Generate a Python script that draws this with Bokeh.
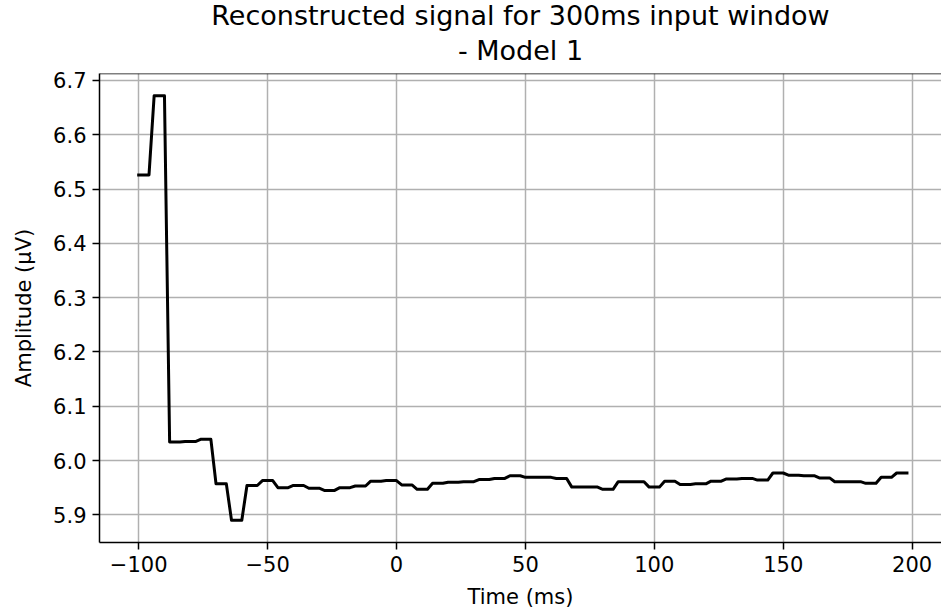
import numpy as np
from bokeh.plotting import figure
from bokeh.models import Range1d, FixedTicker, Title, PrintfTickFormatter, Span
from bokeh.embed import file_html
from bokeh.resources import INLINE

# ---- data ----
# time samples (ms), every 2 ms from -100 to 198
time_ms = list(range(-100, 200, 2))
# reconstructed amplitude (uV): one level per block of 3 samples
levels = [6.526, 6.672, 6.034, 6.035, 6.039, 5.957, 5.890, 5.954, 5.963, 5.950,
          5.954, 5.949, 5.945, 5.950, 5.953, 5.962, 5.963, 5.955, 5.947, 5.958,
          5.960, 5.961, 5.965, 5.967, 5.972, 5.969, 5.969, 5.967, 5.951, 5.951,
          5.947, 5.961, 5.961, 5.951, 5.962, 5.956, 5.957, 5.962, 5.966, 5.967,
          5.964, 5.977, 5.973, 5.972, 5.968, 5.961, 5.961, 5.958, 5.969, 5.977]
samples_per_level = 3
amplitude = list(np.repeat(levels, samples_per_level))

x_ticks = [-100, -50, 0, 50, 100, 150, 200]
x_tick_labels = ["\u2212100", "\u221250", "0", "50", "100", "150", "200"]
y_ticks = [5.9, 6.0, 6.1, 6.2, 6.3, 6.4, 6.5, 6.6, 6.7]

title_line1 = "Reconstructed signal for 300ms input window"
title_line2 = "- Model 1"
x_label = "Time (ms)"
y_label = "Amplitude (\u03bcV)"

FONT = "DejaVu Sans"
Y_TOP = 6.7128

p = figure(width=941, height=615, output_backend="svg", toolbar_location=None,
           x_range=Range1d(-115.2, 211.4), y_range=Range1d(5.849, Y_TOP),
           min_border_left=99, min_border_right=0, min_border_top=73,
           min_border_bottom=73, title=None)

p.background_fill_color = "white"
p.border_fill_color = "white"
p.outline_line_color = None

p.add_layout(Title(text=title_line2, align="center", text_font=FONT,
                   text_font_size="27px", text_font_style="normal",
                   text_color="black", standoff=16), "above")
p.add_layout(Title(text=title_line1, align="center", text_font=FONT,
                   text_font_size="27px", text_font_style="normal",
                   text_color="black", standoff=-12), "above")

# top spine
p.add_layout(Span(location=Y_TOP, dimension="width", line_color="black",
                  line_width=1.5))

p.line(time_ms, amplitude, line_color="black", line_width=3,
       line_join="round", line_cap="square")

p.xaxis.ticker = FixedTicker(ticks=x_ticks)
p.xaxis.major_label_overrides = dict(zip(x_ticks, x_tick_labels))
p.yaxis.ticker = FixedTicker(ticks=y_ticks)
p.yaxis.formatter = PrintfTickFormatter(format="%.1f")

for ax in (p.xaxis, p.yaxis):
    ax.axis_line_color = "black"
    ax.axis_line_width = 1.5
    ax.major_tick_in = 0
    ax.major_tick_out = 7
    ax.major_tick_line_width = 1.5
    ax.major_tick_line_color = "black"
    ax.minor_tick_line_color = None
    ax.major_label_text_font = FONT
    ax.major_label_text_font_size = "21px"
    ax.major_label_text_color = "black"
    ax.major_label_standoff = 6
    ax.axis_label_text_font = FONT
    ax.axis_label_text_font_size = "21px"
    ax.axis_label_text_font_style = "normal"
    ax.axis_label_text_color = "black"

p.xaxis.axis_label = x_label
p.yaxis.axis_label = y_label
p.xaxis.axis_label_standoff = 10
p.yaxis.axis_label_standoff = 14

p.xgrid.ticker = FixedTicker(ticks=x_ticks)
p.ygrid.ticker = FixedTicker(ticks=y_ticks)
for g in (p.xgrid, p.ygrid):
    g.grid_line_color = "#b0b0b0"
    g.grid_line_width = 1.5

open("out.html", "w").write(file_html(p, INLINE))
